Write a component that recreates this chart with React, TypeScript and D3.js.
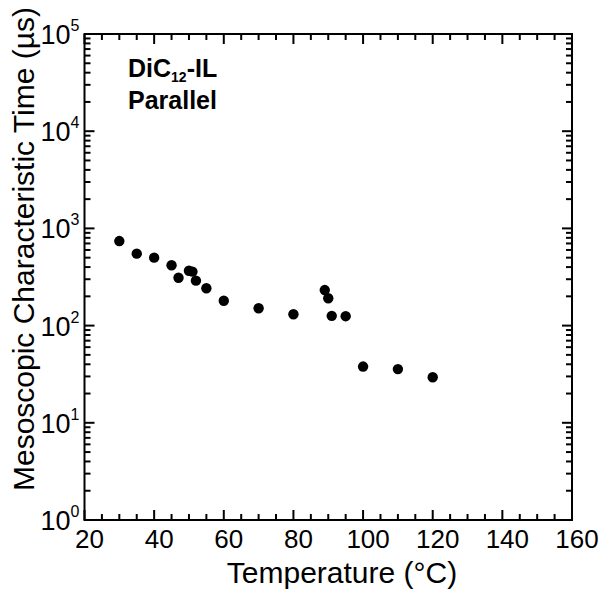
import React from "react";
import * as d3 from "d3";

const temperature = [30, 35, 40, 45, 47, 50, 51, 52, 55, 60, 70, 80, 89, 90, 91, 95, 100, 110, 120];
const charTime = [741, 550, 500, 418, 311, 367, 359, 290, 242, 180, 151, 131, 232, 191, 126, 125, 37.9, 35.7, 29.4];
const xTicks = [20, 40, 60, 80, 100, 120, 140, 160];
const yExponents = [0, 1, 2, 3, 4, 5];

const W = 603;
const H = 594;
const M = { left: 84.5, right: 572, top: 34, bottom: 520 };

export default function App() {
  const x = d3.scaleLinear().domain([20, 160]).range([M.left, M.right]);
  const y = d3.scaleLog().domain([1, 1e5]).range([M.bottom, M.top]);
  const font = "'Liberation Sans', Arial, sans-serif";

  const xMinor = d3.range(20, 160.01, 5);
  const yMinor: number[] = [];
  for (let e = 0; e < 5; e++) for (let k = 2; k <= 9; k++) yMinor.push(k * Math.pow(10, e));

  const majLen = 10;
  const minLen = 6;

  return (
    <svg width={W} height={H} style={{ position: "absolute", left: 0, top: 0, background: "#fff" }}>
      <g stroke="#000" strokeWidth={2}>
        {xMinor.map((t) => {
          const isMaj = t % 20 === 0;
          const L = isMaj ? majLen : minLen;
          return (
            <g key={"xt" + t}>
              <line x1={x(t)} x2={x(t)} y1={M.bottom} y2={M.bottom - L} />
              <line x1={x(t)} x2={x(t)} y1={M.top} y2={M.top + L} />
            </g>
          );
        })}
        {yExponents.map((e) => (
          <g key={"ym" + e}>
            <line x1={M.left} x2={M.left + majLen} y1={y(Math.pow(10, e))} y2={y(Math.pow(10, e))} />
            <line x1={M.right} x2={M.right - majLen} y1={y(Math.pow(10, e))} y2={y(Math.pow(10, e))} />
          </g>
        ))}
        {yMinor.map((v) => (
          <g key={"yn" + v}>
            <line x1={M.left} x2={M.left + minLen} y1={y(v)} y2={y(v)} />
            <line x1={M.right} x2={M.right - minLen} y1={y(v)} y2={y(v)} />
          </g>
        ))}
        <rect x={M.left} y={M.top} width={M.right - M.left} height={M.bottom - M.top} fill="none" />
      </g>

      {xTicks.map((t) => (
        <text key={"xl" + t} x={x(t) + 5} y={M.bottom + 28} textAnchor="middle" fontFamily={font} fontSize={26}>
          {t}
        </text>
      ))}
      {yExponents.map((e) => (
        <text key={"yl" + e} x={M.left - 5} y={y(Math.pow(10, e)) + 10} textAnchor="end" fontFamily={font} fontSize={27}>
          <tspan>10</tspan>
          <tspan dy={-13} fontSize={16}>{e}</tspan>
        </text>
      ))}

      <text x={342} y={583} textAnchor="middle" fontFamily={font} fontSize={30}>
        Temperature (°C)
      </text>
      <text
        transform={`translate(34, 249) rotate(-90)`}
        textAnchor="middle"
        fontFamily={font}
        fontSize={30}
      >
        Mesoscopic Characteristic Time (µs)
      </text>

      <text x={128} y={77} fontFamily={font} fontSize={25} fontWeight="bold">
        <tspan>DiC</tspan>
        <tspan dy={5} fontSize={14}>12</tspan>
        <tspan dy={-5}>-IL</tspan>
      </text>
      <text x={128} y={109} fontFamily={font} fontSize={25} fontWeight="bold">
        Parallel
      </text>

      {temperature.map((t, i) => (
        <circle key={"p" + i} cx={x(t)} cy={y(charTime[i])} r={5.2} fill="#000" />
      ))}
    </svg>
  );
}
